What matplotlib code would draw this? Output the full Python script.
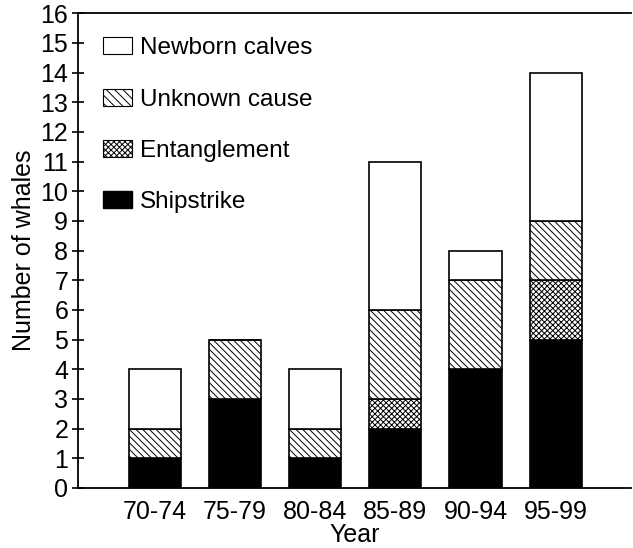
import numpy as np
import matplotlib.pyplot as plt
from matplotlib.patches import Patch

plt.rcParams['font.family'] = ['Liberation Sans', 'DejaVu Sans']
plt.rcParams['hatch.linewidth'] = 0.7

# Data
years = ['70-74', '75-79', '80-84', '85-89', '90-94', '95-99']
shipstrike = [1, 3, 1, 2, 4, 5]
entanglement = [0, 0, 0, 1, 0, 2]
unknown = [1, 2, 1, 3, 3, 2]
newborn = [2, 0, 2, 5, 1, 5]

x = np.arange(len(years))
fig = plt.figure(figsize=(6.33, 5.48), dpi=100)
ax = fig.add_axes([0.123, 0.1095, 0.874, 0.8665])

w = 0.65
b1 = np.array(shipstrike)
b2 = b1 + np.array(entanglement)
b3 = b2 + np.array(unknown)
ax.bar(x, shipstrike, w, color='black', edgecolor='black', linewidth=1.2)
ax.bar(x, entanglement, w, bottom=b1, color='white', edgecolor='black',
       hatch='xxxxxx', linewidth=1.2)
ax.bar(x, unknown, w, bottom=b2, color='white', edgecolor='black',
       hatch='\\\\\\\\\\', linewidth=1.2)
ax.bar(x, newborn, w, bottom=b3, color='white', edgecolor='black', linewidth=1.2)

ax.set_xlim(-0.96, 5.94)
ax.set_ylim(0, 16)
ax.set_yticks(range(0, 17))
ax.set_xticks(x)
ax.set_xticklabels(years)
ax.tick_params(axis='y', direction='inout', length=8, width=1.2, labelsize=18, pad=3)
ax.tick_params(axis='x', length=0, labelsize=18, pad=9)
ax.spines['right'].set_visible(False)
for s in ['left', 'bottom', 'top']:
    ax.spines[s].set_linewidth(1.3)

ax.set_xlabel('Year', fontsize=18, labelpad=-1)
ax.set_ylabel('Number of whales', fontsize=18, labelpad=3)

handles = [
    Patch(facecolor='white', edgecolor='black', linewidth=0.8),
    Patch(facecolor='white', edgecolor='black', hatch='\\\\\\\\', linewidth=0.8),
    Patch(facecolor='white', edgecolor='black', hatch='xxxxxx', linewidth=0.8),
    Patch(facecolor='black', edgecolor='black'),
]
labels = ['Newborn calves', 'Unknown cause', 'Entanglement', 'Shipstrike']
ax.legend(handles, labels, loc='upper left', bbox_to_anchor=(0.005, 0.995),
          frameon=False, fontsize=17.5, labelspacing=1.2, handlelength=1.2,
          handleheight=0.7, handletextpad=0.35)

fig.savefig('out.png', dpi=100)
